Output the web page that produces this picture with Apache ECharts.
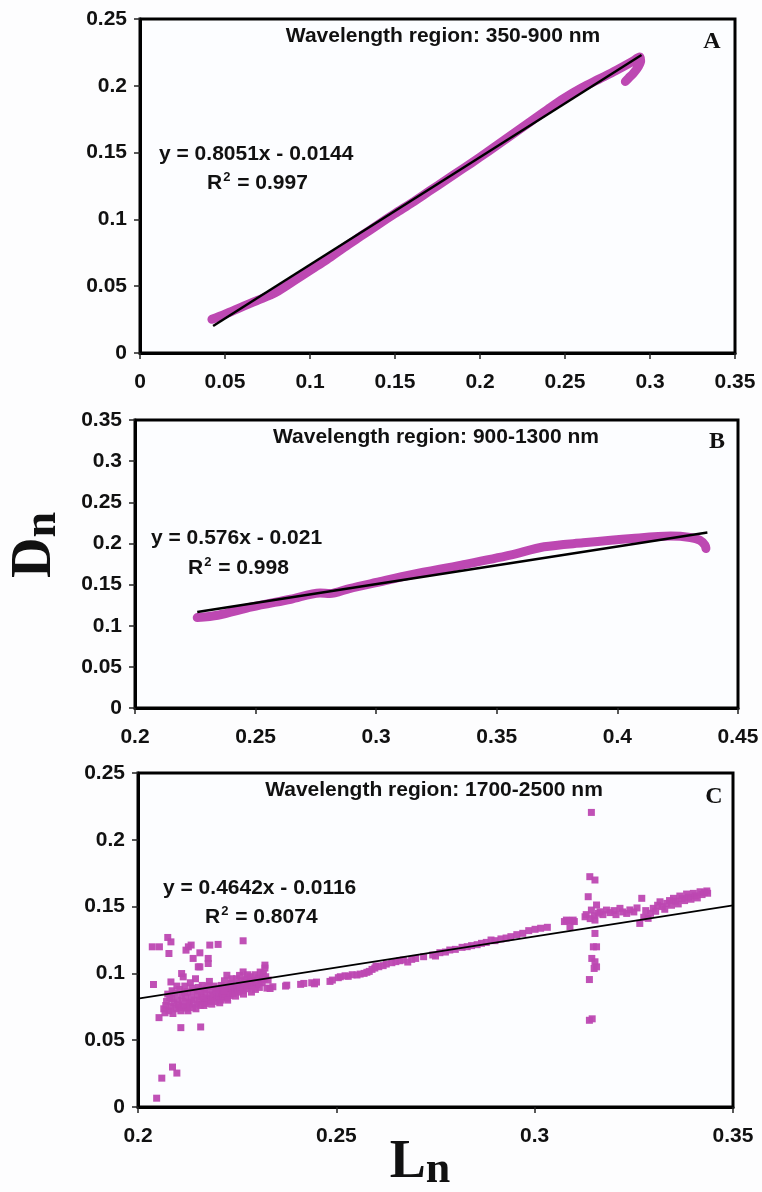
<!DOCTYPE html>
<html>
<head>
<meta charset="utf-8">
<script src="https://cdn.jsdelivr.net/npm/echarts@6/dist/echarts.min.js"></script>
<style>
  html, body { margin: 0; padding: 0; background: #ffffff; }
  #chart { width: 762px; height: 1192px; }
</style>
</head>
<body>
<div id="chart"></div>
<script>
// ---- Panel A: 350-900 nm (dense spectral points drawn as a thick trace) ----
const curveA = [
  [0.0423, 0.0252], [0.050, 0.0290], [0.060, 0.0345], [0.0694, 0.0395], [0.080, 0.0455],
  [0.090, 0.0535], [0.1009, 0.0625], [0.110, 0.0700], [0.120, 0.0790], [0.130, 0.0875],
  [0.140, 0.0960], [0.150, 0.1044], [0.160, 0.1125], [0.170, 0.1210], [0.180, 0.1295],
  [0.190, 0.1380], [0.200, 0.1466], [0.210, 0.1555], [0.220, 0.1645], [0.230, 0.1735],
  [0.240, 0.1825], [0.2494, 0.1906], [0.260, 0.1985], [0.270, 0.2050], [0.280, 0.2115],
  [0.2894, 0.2180], [0.2940, 0.2215], [0.2945, 0.2185], [0.2931, 0.2143], [0.2902, 0.2093],
  [0.2873, 0.2056], [0.2855, 0.2032]
];
const fitA = [[0.043, 0.0202], [0.295, 0.2231]];

// ---- Panel B: 900-1300 nm ----
const curveB = [
  [0.2258, 0.1099], [0.2343, 0.1127], [0.2485, 0.1229], [0.2646, 0.1322], [0.2767, 0.1399],
  [0.2808, 0.1390], [0.2889, 0.1452], [0.3000, 0.1525], [0.3151, 0.1622], [0.3353, 0.1736],
  [0.3555, 0.1857], [0.3696, 0.1959], [0.3858, 0.2008], [0.4060, 0.2060], [0.4221, 0.2089],
  [0.4302, 0.2072], [0.4342, 0.2040], [0.4363, 0.1980], [0.4367, 0.1939]
];
const fitB = [[0.2258, 0.1168], [0.4373, 0.2133]];

// ---- Panel C: 1700-2500 nm (individual samples) ----
const scatterLeftC = [
  [0.2036, 0.1199], [0.2054, 0.1199], [0.2075, 0.1269], [0.2083, 0.1236], [0.2078, 0.1149],
  [0.2039, 0.0917], [0.2083, 0.0936], [0.2053, 0.0669], [0.2108, 0.0594], [0.2158, 0.0599],
  [0.2087, 0.0299], [0.2098, 0.0254], [0.2060, 0.0216], [0.2047, 0.0066],
  [0.2127, 0.1199], [0.2134, 0.1212], [0.2121, 0.1174], [0.2139, 0.1112], [0.2156, 0.1154],
  [0.2181, 0.1212], [0.2202, 0.1217], [0.2177, 0.1112], [0.2177, 0.1074], [0.2265, 0.1244],
  [0.2156, 0.1049], [0.2114, 0.0974], [0.2110, 0.0999], [0.2085, 0.0812], [0.2224, 0.0986],
  [0.2265, 0.1011], [0.2320, 0.1062], [0.2316, 0.0999], [0.2152, 0.1049],
  [0.2065, 0.0735], [0.2070, 0.0760], [0.2072, 0.0790], [0.2078, 0.0720], [0.2080, 0.0820],
  [0.2083, 0.0752], [0.2088, 0.0700], [0.2090, 0.0780], [0.2093, 0.0850], [0.2096, 0.0735],
  [0.2100, 0.0800], [0.2102, 0.0765], [0.2105, 0.0880], [0.2108, 0.0720], [0.2110, 0.0835],
  [0.2112, 0.0790], [0.2115, 0.0755], [0.2118, 0.0905], [0.2120, 0.0815], [0.2122, 0.0740],
  [0.2125, 0.0860], [0.2128, 0.0785], [0.2130, 0.0770], [0.2132, 0.0930], [0.2135, 0.0820],
  [0.2138, 0.0745], [0.2140, 0.0870], [0.2142, 0.0800], [0.2145, 0.0960], [0.2148, 0.0770],
  [0.2150, 0.0840], [0.2152, 0.0895], [0.2155, 0.0790], [0.2158, 0.0760], [0.2160, 0.0825],
  [0.2162, 0.0910], [0.2165, 0.0805], [0.2168, 0.0850], [0.2170, 0.0775], [0.2172, 0.0880],
  [0.2175, 0.0815], [0.2178, 0.0790], [0.2180, 0.0940], [0.2182, 0.0840], [0.2185, 0.0800],
  [0.2188, 0.0870], [0.2190, 0.0825], [0.2192, 0.0905], [0.2195, 0.0790], [0.2198, 0.0850],
  [0.2200, 0.0815], [0.2203, 0.0880], [0.2205, 0.0835], [0.2208, 0.0800], [0.2210, 0.0910],
  [0.2212, 0.0860], [0.2215, 0.0825], [0.2218, 0.0945], [0.2220, 0.0845], [0.2222, 0.0880],
  [0.2225, 0.0815], [0.2228, 0.0900], [0.2230, 0.0860], [0.2232, 0.0835], [0.2235, 0.0925],
  [0.2238, 0.0880], [0.2240, 0.0850], [0.2243, 0.0905], [0.2245, 0.0870], [0.2248, 0.0960],
  [0.2250, 0.0890], [0.2253, 0.0860], [0.2255, 0.0920], [0.2258, 0.0880], [0.2260, 0.0945],
  [0.2263, 0.0900], [0.2265, 0.0870], [0.2268, 0.0930], [0.2270, 0.0905], [0.2273, 0.0960],
  [0.2275, 0.0885], [0.2278, 0.0935], [0.2280, 0.0910], [0.2283, 0.0975], [0.2285, 0.0925],
  [0.2288, 0.0900], [0.2290, 0.0950], [0.2293, 0.0925], [0.2295, 0.0990], [0.2298, 0.0940],
  [0.2300, 0.0915], [0.2303, 0.0965], [0.2305, 0.0940], [0.2308, 0.1010], [0.2310, 0.0955],
  [0.2313, 0.0930], [0.2315, 0.0985], [0.2318, 0.0960], [0.2320, 0.1040], [0.2322, 0.0975],
  [0.2325, 0.0890], [0.2328, 0.0950],
  [0.2068, 0.0705], [0.2075, 0.0845], [0.2086, 0.0870], [0.2098, 0.0905], [0.2104, 0.0745],
  [0.2117, 0.0860], [0.2126, 0.0720], [0.2136, 0.0890], [0.2146, 0.0735], [0.2157, 0.0870],
  [0.2166, 0.0760], [0.2177, 0.0905], [0.2186, 0.0770], [0.2196, 0.0880], [0.2206, 0.0780],
  [0.2216, 0.0870], [0.2226, 0.0800], [0.2236, 0.0960], [0.2246, 0.0830], [0.2256, 0.0985],
  [0.2266, 0.0845], [0.2276, 0.0990], [0.2286, 0.0860], [0.2296, 0.0880], [0.2306, 0.0895]
];
const scatterMidC = [
  [0.2333, 0.0887], [0.2340, 0.0900], [0.2372, 0.0905], [0.2375, 0.0912], [0.2410, 0.0918],
  [0.2418, 0.0925], [0.2438, 0.0930], [0.2445, 0.0922], [0.2450, 0.0935], [0.2484, 0.0940],
  [0.2490, 0.0950], [0.2505, 0.0968], [0.2510, 0.0975], [0.2522, 0.0982], [0.2530, 0.0978],
  [0.2540, 0.0990], [0.2552, 0.0988], [0.2560, 0.0995], [0.2570, 0.1000], [0.2577, 0.1008],
  [0.2583, 0.1015], [0.2590, 0.1030], [0.2597, 0.1040], [0.2600, 0.1055], [0.2607, 0.1050],
  [0.2618, 0.1058], [0.2626, 0.1070], [0.2640, 0.1080], [0.2650, 0.1088], [0.2660, 0.1095],
  [0.2669, 0.1100], [0.2680, 0.1085], [0.2690, 0.1105], [0.2700, 0.1112], [0.2720, 0.1125],
  [0.2743, 0.1138], [0.2750, 0.1130], [0.2761, 0.1155], [0.2775, 0.1160], [0.2786, 0.1175],
  [0.2800, 0.1180], [0.2817, 0.1195], [0.2830, 0.1200], [0.2841, 0.1208], [0.2855, 0.1215],
  [0.2866, 0.1225], [0.2878, 0.1232], [0.2890, 0.1250], [0.2900, 0.1245], [0.2915, 0.1258],
  [0.2928, 0.1265], [0.2940, 0.1275], [0.2955, 0.1290], [0.2970, 0.1300], [0.2985, 0.1320],
  [0.3001, 0.1330], [0.3015, 0.1338], [0.3032, 0.1345], [0.3075, 0.1388], [0.3088, 0.1395],
  [0.3100, 0.1388]
];
const scatterRightC = [
  [0.3143, 0.2205], [0.3139, 0.1724], [0.3152, 0.1699], [0.3135, 0.1574], [0.3156, 0.1512],
  [0.3143, 0.1474], [0.3152, 0.1399], [0.3152, 0.1299], [0.3148, 0.1199], [0.3156, 0.1199],
  [0.3144, 0.1112], [0.3152, 0.1087], [0.3156, 0.1049], [0.3150, 0.1037], [0.3138, 0.0954],
  [0.3138, 0.0649], [0.3145, 0.0660],
  [0.3080, 0.1399], [0.3097, 0.1399], [0.3089, 0.1349], [0.3127, 0.1424], [0.3130, 0.1440],
  [0.3140, 0.1410], [0.3150, 0.1430], [0.3160, 0.1450], [0.3165, 0.1461], [0.3172, 0.1440],
  [0.3181, 0.1474], [0.3190, 0.1455], [0.3200, 0.1470], [0.3205, 0.1440], [0.3215, 0.1487],
  [0.3222, 0.1460], [0.3232, 0.1449], [0.3240, 0.1475], [0.3250, 0.1460], [0.3258, 0.1490],
  [0.3265, 0.1374], [0.3270, 0.1562], [0.3275, 0.1420], [0.3280, 0.1470], [0.3286, 0.1412],
  [0.3292, 0.1450], [0.3299, 0.1487], [0.3305, 0.1465], [0.3310, 0.1510], [0.3316, 0.1536],
  [0.3322, 0.1500], [0.3328, 0.1480], [0.3333, 0.1524], [0.3340, 0.1545], [0.3345, 0.1510],
  [0.3350, 0.1562], [0.3356, 0.1540], [0.3362, 0.1520], [0.3366, 0.1579], [0.3372, 0.1560],
  [0.3378, 0.1545], [0.3383, 0.1594], [0.3388, 0.1570], [0.3394, 0.1555], [0.3400, 0.1599],
  [0.3405, 0.1580], [0.3410, 0.1565], [0.3417, 0.1611], [0.3422, 0.1590], [0.3428, 0.1605],
  [0.3434, 0.1617], [0.3436, 0.1600]
];
const fitC = [[0.200, 0.0812], [0.350, 0.1509]];

// Axis ranges per panel: [xMin, xMax, yMin, yMax]
const rangesA = [0, 0.35, 0, 0.25];
const rangesB = [0.2, 0.45, 0, 0.35];
const rangesC = [0.2, 0.35, 0, 0.25];
const tickStep = 0.05;

// Panel captions and fit statistics
const regionLabels = ['Wavelength region: 350-900 nm', 'Wavelength region: 900-1300 nm', 'Wavelength region: 1700-2500 nm'];
const panelLetters = ['A', 'B', 'C'];
const fitEquations = ['y = 0.8051x - 0.0144', 'y = 0.576x - 0.021', 'y = 0.4642x - 0.0116'];
const fitR2 = ['0.997', '0.998', '0.8074'];

const MAGENTA = '#bd48b2';
const SANS = '"Liberation Sans", Arial, Helvetica, sans-serif';
const SERIF = '"Liberation Serif", "Times New Roman", serif';
const FS = 21;

const grids = [
  { left: 140, top: 19, width: 595, height: 334 },
  { left: 135, top: 420, width: 603, height: 288 },
  { left: 138, top: 773, width: 595, height: 334 }
];
const ranges = [rangesA, rangesB, rangesC];

function xAxisFor(i) {
  const r = ranges[i];
  return {
    type: 'value', gridIndex: i, min: r[0], max: r[1], interval: tickStep,
    axisLine: { show: true, onZero: false, lineStyle: { color: '#000', width: 3 } },
    axisTick: { show: true, inside: false, length: 6, lineStyle: { color: '#222', width: 1.5 } },
    axisLabel: { margin: 19, color: '#111', fontFamily: SANS, fontWeight: 'bold', fontSize: FS, showMaxLabel: true, showMinLabel: true },
    splitLine: { show: false }
  };
}
function yAxisFor(i) {
  const r = ranges[i];
  return {
    type: 'value', gridIndex: i, min: r[2], max: r[3], interval: tickStep,
    axisLine: { show: true, onZero: false, lineStyle: { color: '#000', width: 3 } },
    axisTick: { show: true, inside: false, length: 6, lineStyle: { color: '#222', width: 1.5 } },
    axisLabel: { margin: 13, color: '#111', fontFamily: SANS, fontWeight: 'bold', fontSize: FS, showMaxLabel: true },
    splitLine: { show: false }
  };
}

function traceSeries(data, i) {
  return {
    type: 'line', xAxisIndex: i, yAxisIndex: i, data: data, showSymbol: false, smooth: 0.3,
    lineStyle: { color: MAGENTA, width: 9, cap: 'round', join: 'round' }, silent: true, z: 2
  };
}
function fitSeries(data, i, w) {
  return {
    type: 'line', xAxisIndex: i, yAxisIndex: i, data: data, showSymbol: false,
    lineStyle: { color: '#000', width: w }, silent: true, z: 5
  };
}
function scatterSeries(data, i) {
  return {
    type: 'scatter', xAxisIndex: i, yAxisIndex: i, data: data, symbol: 'rect', symbolSize: 7,
    itemStyle: { color: MAGENTA, opacity: 0.95 }, silent: true, z: 3
  };
}

// Text placement for captions, equations and panel letters
const captionPos = [[443, 36], [436, 437], [434, 790]];
const letterPos = [[712, 42], [717, 442], [714, 797]];
const eqPos = [[159, 154], [151, 538], [163, 888]];
const r2Pos = [[207, 183], [188, 568], [205, 917]];

const graphics = [];
for (let i = 0; i < 3; i++) {
  graphics.push({
    type: 'text', x: captionPos[i][0], y: captionPos[i][1], z: 10,
    style: { text: regionLabels[i], fill: '#111', font: 'bold ' + FS + 'px ' + SANS, align: 'center', verticalAlign: 'middle' }
  });
  graphics.push({
    type: 'text', x: letterPos[i][0], y: letterPos[i][1], z: 10,
    style: { text: panelLetters[i], fill: '#111', font: 'bold 24px ' + SERIF, align: 'center', verticalAlign: 'middle' }
  });
  graphics.push({
    type: 'text', x: eqPos[i][0], y: eqPos[i][1], z: 10,
    style: { text: fitEquations[i], fill: '#111', font: 'bold ' + FS + 'px ' + SANS, align: 'left', verticalAlign: 'middle' }
  });
  graphics.push({
    type: 'text', x: r2Pos[i][0], y: r2Pos[i][1], z: 10,
    style: {
      text: 'R{sup|2} = ' + fitR2[i], fill: '#111', font: 'bold ' + FS + 'px ' + SANS, align: 'left', verticalAlign: 'middle',
      rich: { sup: { fontSize: 13, fontWeight: 'bold', fontFamily: SANS, fill: '#111', padding: [0, 1, 12, 1] } }
    }
  });
}
// Axis titles: D_n (vertical) and L_n
graphics.push({
  type: 'text', x: 36, y: 545, rotation: Math.PI / 2, z: 10,
  style: {
    text: '{big|D}{sub|n}', align: 'center', verticalAlign: 'middle', fill: '#111',
    rich: {
      big: { fontFamily: SERIF, fontWeight: 'bold', fontSize: 56, fill: '#111' },
      sub: { fontFamily: SERIF, fontWeight: 'bold', fontSize: 46, fill: '#111', padding: [14, 0, 0, 0] }
    }
  }
});
graphics.push({
  type: 'text', x: 420, y: 1163, z: 10,
  style: {
    text: '{big|L}{sub|n}', align: 'center', verticalAlign: 'middle', fill: '#111',
    rich: {
      big: { fontFamily: SERIF, fontWeight: 'bold', fontSize: 54, fill: '#111' },
      sub: { fontFamily: SERIF, fontWeight: 'bold', fontSize: 44, fill: '#111', padding: [16, 0, 0, 0] }
    }
  }
});

const chart = echarts.init(document.getElementById('chart'), null, { renderer: 'canvas' });
chart.setOption({
  backgroundColor: '#fdfdfe',
  animation: false,
  grid: grids.map(g => Object.assign({ show: true, borderColor: '#000', borderWidth: 3, backgroundColor: '#fcfdff' }, g)),
  xAxis: [0, 1, 2].map(xAxisFor),
  yAxis: [0, 1, 2].map(yAxisFor),
  series: [
    traceSeries(curveA, 0), fitSeries(fitA, 0, 2.5),
    traceSeries(curveB, 1), fitSeries(fitB, 1, 2.5),
    scatterSeries(scatterLeftC, 2), scatterSeries(scatterMidC, 2), scatterSeries(scatterRightC, 2),
    fitSeries(fitC, 2, 1.8)
  ],
  graphic: graphics
});
</script>
</body>
</html>
